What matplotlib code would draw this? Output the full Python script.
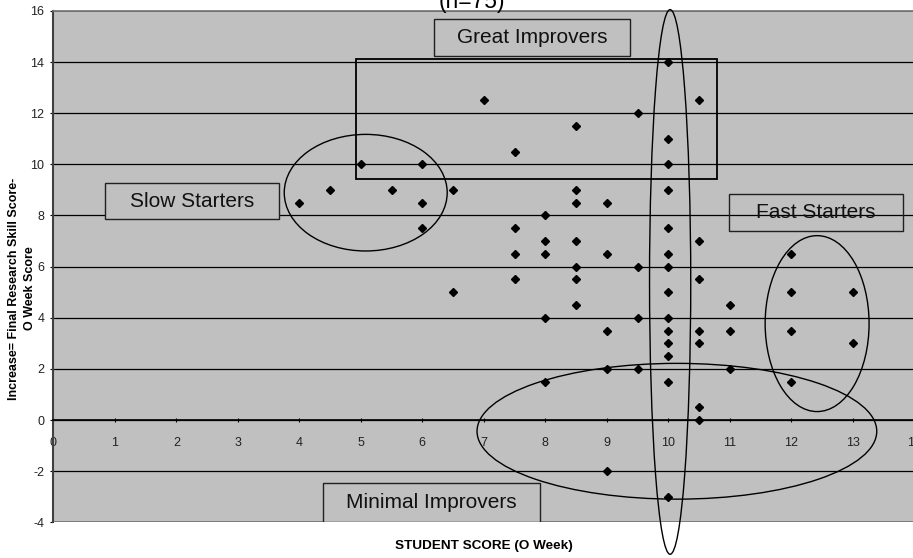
import numpy as np
from matplotlib import pyplot as plt
from matplotlib.patches import Ellipse, Rectangle

# O week score and increase for each student (overlapping points drawn once)
o_week = [4, 4.5, 5, 5.5, 6, 6, 6, 6.5, 6.5, 7,
          7.5, 7.5, 7.5, 7.5,
          8, 8, 8, 8, 8,
          8.5, 8.5, 8.5, 8.5, 8.5, 8.5, 8.5,
          9, 9, 9, 9, 9,
          9.5, 9.5, 9.5, 9.5,
          10, 10, 10, 10, 10, 10, 10, 10, 10, 10, 10, 10, 10, 10,
          10.5, 10.5, 10.5, 10.5, 10.5, 10.5, 10.5,
          11, 11, 11,
          12, 12, 12, 12,
          13, 13]
increase = [8.5, 9, 10, 9, 10, 8.5, 7.5, 9, 5, 12.5,
            10.5, 7.5, 6.5, 5.5,
            8, 7, 6.5, 4, 1.5,
            11.5, 9, 8.5, 7, 6, 5.5, 4.5,
            8.5, 6.5, 3.5, 2, -2,
            12, 6, 4, 2,
            14, 11, 10, 9, 7.5, 6.5, 6, 5, 4, 3.5, 3, 2.5, 1.5, -3,
            12.5, 7, 5.5, 3.5, 3, 0.5, 0,
            4.5, 3.5, 2,
            6.5, 5, 3.5, 1.5,
            5, 3]

x_ticks = list(range(0, 15))
y_ticks = list(range(-4, 17, 2))

plt.rcParams['font.family'] = ['Liberation Sans', 'DejaVu Sans']
plt.rcParams['axes.unicode_minus'] = False

fig = plt.figure(figsize=(9.13, 5.58), dpi=100)
ax = fig.add_axes([0.0584, 0.064, 0.943, 0.9165])
ax.set_facecolor('#c0c0c0')

ax.plot(o_week, increase, 'D', color='black', markersize=4, zorder=5)

ax.set_xlim(x_ticks[0], x_ticks[-1])
ax.set_ylim(y_ticks[0], y_ticks[-1])
ax.set_xticks(x_ticks)
ax.set_yticks(y_ticks)

# x axis crosses at zero like the excel chart
ax.spines['bottom'].set_position(('data', 0))
ax.spines['bottom'].set_color('black')
ax.spines['bottom'].set_linewidth(1.2)
ax.spines['left'].set_color('#404040')
ax.spines['left'].set_linewidth(1.5)
ax.spines['top'].set_color('#707070')
ax.spines['top'].set_linewidth(1.2)
ax.spines['right'].set_visible(False)

ax.tick_params(axis='x', direction='inout', length=3, pad=11, labelsize=9, labelcolor='#222222')
ax.tick_params(axis='y', direction='out', length=2.5, pad=4, labelsize=9, labelcolor='#222222')

ax.yaxis.grid(True, color='black', linewidth=0.9)
ax.set_axisbelow(True)
for line, t in zip(ax.get_ygridlines(), y_ticks):
    if t in (y_ticks[0], y_ticks[-1]):
        line.set_color('#707070')
        line.set_linewidth(1.2)

ax.set_ylabel('Increase= Final Research Skill Score-\nO Week Score', fontsize=9,
              fontweight='bold', linespacing=1.45)
ax.yaxis.label.set_va('center')
ax.yaxis.set_label_coords(-0.0364, 0.457)
ax.set_xlabel('STUDENT SCORE (O Week)', fontsize=9.7, fontweight='bold')
ax.xaxis.label.set_va('center')
ax.xaxis.set_label_coords(0.5, (522.3 - 546.5) / 511.4)
fig.text(472 / 913, 1 - 13 / 558, '(n=75)', fontsize=16.5, ha='center', va='bottom')

# group rectangle and ellipses
ax.add_patch(Rectangle((4.93, 9.41), 5.86, 4.69, fill=False, edgecolor='black',
                       linewidth=1.3, zorder=4))
for cx, cy, w, h in [(5.08, 8.89, 2.65, 4.56), (10.03, 5.4, 0.67, 21.3),
                     (10.14, -0.44, 6.5, 5.31), (12.42, 3.77, 1.69, 6.88)]:
    ax.add_patch(Ellipse((cx, cy), w, h, fill=False, edgecolor='black',
                         linewidth=1.0, zorder=4, clip_on=False))

# labelled boxes
boxes = [('Slow Starters', 0.84, 7.85, 3.67, 9.27, True),
         ('Great Improvers', 6.19, 14.25, 9.38, 15.67, True),
         ('Fast Starters', 10.98, 7.40, 13.81, 8.83, False),
         ('Minimal Improvers', 4.39, -3.99, 7.91, -2.48, True)]
for label, x0, y0, x1, y1, filled in boxes:
    ax.add_patch(Rectangle((x0, y0), x1 - x0, y1 - y0, facecolor='#c0c0c0',
                           fill=filled, edgecolor='#202020', linewidth=1.0, zorder=3))
    ax.text((x0 + x1) / 2, (y0 + y1) / 2, label, fontsize=15, ha='center',
            va='center', color='#111111', zorder=6)

plt.savefig('out.png', dpi=100)
